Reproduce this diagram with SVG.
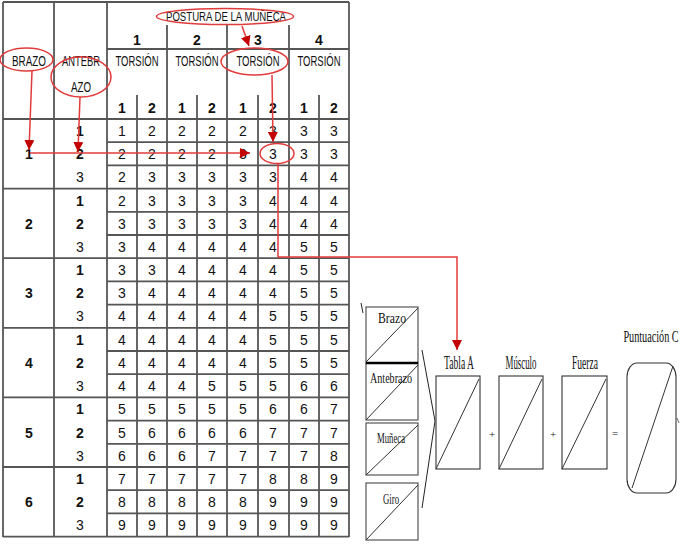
<svg xmlns="http://www.w3.org/2000/svg" width="688" height="550" viewBox="0 0 688 550">
<style>
.v{stroke:#000;stroke-width:1.2}
.h{stroke:#555;stroke-width:1.8}
.d{font-family:"Liberation Sans Narrow","Liberation Sans",sans-serif;font-size:14px;text-anchor:middle;fill:#111}
.b{font-weight:bold}
.hd{font-family:"Liberation Sans Narrow","Liberation Sans",sans-serif;font-size:14px;text-anchor:middle;fill:#111}
.r{stroke:#e23b3b;stroke-width:1.5;fill:none}
.bx{stroke:#555;stroke-width:1.2;fill:none}
.bx2{stroke:#333;stroke-width:1.1;fill:none}
.dg{stroke:#333;stroke-width:1}
.s{font-family:"Liberation Serif",serif;font-size:15px;text-anchor:middle;fill:#111}
.t{font-size:18px}
.op{font-size:11px}
</style>
<defs>
<marker id="ah" markerWidth="10" markerHeight="10" refX="10" refY="5" orient="auto" markerUnits="userSpaceOnUse"><path d="M0,0 L10,5 L0,10 z" fill="#c40000"/></marker>
</defs>
<rect width="688" height="550" fill="#fff"/>
<g id="table">
<g id="grid">
<line class="v" x1="3" y1="2" x2="3" y2="537"/>
<line class="v" x1="54" y1="2" x2="54" y2="537"/>
<line class="v" x1="107" y1="2" x2="107" y2="537"/>
<line class="v" x1="167" y1="25" x2="167" y2="537"/>
<line class="v" x1="227" y1="25" x2="227" y2="537"/>
<line class="v" x1="289" y1="25" x2="289" y2="537"/>
<line class="v" x1="349" y1="2" x2="349" y2="537"/>
<line class="v" x1="137" y1="95" x2="137" y2="537"/>
<line class="v" x1="197" y1="95" x2="197" y2="537"/>
<line class="v" x1="258" y1="95" x2="258" y2="537"/>
<line class="v" x1="319" y1="95" x2="319" y2="537"/>
<line class="h" x1="3" y1="2" x2="349" y2="2"/>
<line class="h" x1="107" y1="49" x2="349" y2="49"/>
<line class="h" x1="3" y1="119" x2="349" y2="119"/>
<line class="h" x1="3" y1="188.6" x2="349" y2="188.6"/>
<line class="h" x1="3" y1="258.2" x2="349" y2="258.2"/>
<line class="h" x1="3" y1="327.8" x2="349" y2="327.8"/>
<line class="h" x1="3" y1="397.4" x2="349" y2="397.4"/>
<line class="h" x1="3" y1="467" x2="349" y2="467"/>
<line class="h" x1="3" y1="536.6" x2="349" y2="536.6"/>
<line class="h" x1="107" y1="142.2" x2="349" y2="142.2"/>
<line class="h" x1="107" y1="165.4" x2="349" y2="165.4"/>
<line class="h" x1="107" y1="211.8" x2="349" y2="211.8"/>
<line class="h" x1="107" y1="235" x2="349" y2="235"/>
<line class="h" x1="107" y1="281.4" x2="349" y2="281.4"/>
<line class="h" x1="107" y1="304.6" x2="349" y2="304.6"/>
<line class="h" x1="107" y1="351" x2="349" y2="351"/>
<line class="h" x1="107" y1="374.2" x2="349" y2="374.2"/>
<line class="h" x1="107" y1="420.6" x2="349" y2="420.6"/>
<line class="h" x1="107" y1="443.8" x2="349" y2="443.8"/>
<line class="h" x1="107" y1="490.2" x2="349" y2="490.2"/>
<line class="h" x1="107" y1="513.4" x2="349" y2="513.4"/>
</g>
<g id="header">
<text class="hd" x="226" y="21" style="font-size:13px" textLength="120" lengthAdjust="spacingAndGlyphs">POSTURA DE LA MUÑECA</text>
<text class="hd b" x="137" y="45">1</text>
<text class="hd b" x="197" y="45">2</text>
<text class="hd b" x="258" y="45">3</text>
<text class="hd b" x="319" y="45">4</text>
<text class="hd" x="29" y="66" textLength="34" lengthAdjust="spacingAndGlyphs">BRAZO</text>
<text class="hd" x="81" y="66" textLength="38" lengthAdjust="spacingAndGlyphs">ANTEBR</text>
<text class="hd" x="81" y="92" textLength="20" lengthAdjust="spacingAndGlyphs">AZO</text>
<text class="hd" x="137" y="66" textLength="43" lengthAdjust="spacingAndGlyphs">TORSIÓN</text>
<text class="hd" x="197" y="66" textLength="43" lengthAdjust="spacingAndGlyphs">TORSIÓN</text>
<text class="hd" x="258" y="66" textLength="43" lengthAdjust="spacingAndGlyphs">TORSIÓN</text>
<text class="hd" x="319" y="66" textLength="43" lengthAdjust="spacingAndGlyphs">TORSIÓN</text>
<text class="d b" x="122" y="113">1</text><text class="d b" x="152" y="113">2</text>
<text class="d b" x="182" y="113">1</text><text class="d b" x="212" y="113">2</text>
<text class="d b" x="243" y="113">1</text><text class="d b" x="273" y="113">2</text>
<text class="d b" x="304" y="113">1</text><text class="d b" x="334" y="113">2</text>
</g>
<g id="rowlabels">
<text class="d b" x="29" y="159">1</text>
<text class="d b" x="29" y="229">2</text>
<text class="d b" x="29" y="298">3</text>
<text class="d b" x="29" y="368">4</text>
<text class="d b" x="29" y="438">5</text>
<text class="d b" x="29" y="507">6</text>
<text class="d b" x="80" y="136">1</text><text class="d b" x="80" y="159">2</text><text class="d" x="80" y="182">3</text>
<text class="d b" x="80" y="206">1</text><text class="d b" x="80" y="229">2</text><text class="d" x="80" y="252">3</text>
<text class="d b" x="80" y="275">1</text><text class="d b" x="80" y="298">2</text><text class="d" x="80" y="321">3</text>
<text class="d b" x="80" y="345">1</text><text class="d b" x="80" y="368">2</text><text class="d" x="80" y="391">3</text>
<text class="d b" x="80" y="414">1</text><text class="d b" x="80" y="438">2</text><text class="d" x="80" y="461">3</text>
<text class="d b" x="80" y="484">1</text><text class="d b" x="80" y="507">2</text><text class="d" x="80" y="530">3</text>
</g>
<g id="values">
<text class="d" x="122" y="136">1</text><text class="d" x="152" y="136">2</text><text class="d" x="182" y="136">2</text><text class="d" x="212" y="136">2</text><text class="d" x="243" y="136">2</text><text class="d" x="273" y="136">3</text><text class="d" x="304" y="136">3</text><text class="d" x="334" y="136">3</text>
<text class="d" x="122" y="159">2</text><text class="d" x="152" y="159">2</text><text class="d" x="182" y="159">2</text><text class="d" x="212" y="159">2</text><text class="d" x="243" y="159">3</text><text class="d" x="273" y="159">3</text><text class="d" x="304" y="159">3</text><text class="d" x="334" y="159">3</text>
<text class="d" x="122" y="182">2</text><text class="d" x="152" y="182">3</text><text class="d" x="182" y="182">3</text><text class="d" x="212" y="182">3</text><text class="d" x="243" y="182">3</text><text class="d" x="273" y="182">3</text><text class="d" x="304" y="182">4</text><text class="d" x="334" y="182">4</text>
<text class="d" x="122" y="206">2</text><text class="d" x="152" y="206">3</text><text class="d" x="182" y="206">3</text><text class="d" x="212" y="206">3</text><text class="d" x="243" y="206">3</text><text class="d" x="273" y="206">4</text><text class="d" x="304" y="206">4</text><text class="d" x="334" y="206">4</text>
<text class="d" x="122" y="229">3</text><text class="d" x="152" y="229">3</text><text class="d" x="182" y="229">3</text><text class="d" x="212" y="229">3</text><text class="d" x="243" y="229">3</text><text class="d" x="273" y="229">4</text><text class="d" x="304" y="229">4</text><text class="d" x="334" y="229">4</text>
<text class="d" x="122" y="252">3</text><text class="d" x="152" y="252">4</text><text class="d" x="182" y="252">4</text><text class="d" x="212" y="252">4</text><text class="d" x="243" y="252">4</text><text class="d" x="273" y="252">4</text><text class="d" x="304" y="252">5</text><text class="d" x="334" y="252">5</text>
<text class="d" x="122" y="275">3</text><text class="d" x="152" y="275">3</text><text class="d" x="182" y="275">4</text><text class="d" x="212" y="275">4</text><text class="d" x="243" y="275">4</text><text class="d" x="273" y="275">4</text><text class="d" x="304" y="275">5</text><text class="d" x="334" y="275">5</text>
<text class="d" x="122" y="298">3</text><text class="d" x="152" y="298">4</text><text class="d" x="182" y="298">4</text><text class="d" x="212" y="298">4</text><text class="d" x="243" y="298">4</text><text class="d" x="273" y="298">4</text><text class="d" x="304" y="298">5</text><text class="d" x="334" y="298">5</text>
<text class="d" x="122" y="321">4</text><text class="d" x="152" y="321">4</text><text class="d" x="182" y="321">4</text><text class="d" x="212" y="321">4</text><text class="d" x="243" y="321">4</text><text class="d" x="273" y="321">5</text><text class="d" x="304" y="321">5</text><text class="d" x="334" y="321">5</text>
<text class="d" x="122" y="345">4</text><text class="d" x="152" y="345">4</text><text class="d" x="182" y="345">4</text><text class="d" x="212" y="345">4</text><text class="d" x="243" y="345">4</text><text class="d" x="273" y="345">5</text><text class="d" x="304" y="345">5</text><text class="d" x="334" y="345">5</text>
<text class="d" x="122" y="368">4</text><text class="d" x="152" y="368">4</text><text class="d" x="182" y="368">4</text><text class="d" x="212" y="368">4</text><text class="d" x="243" y="368">4</text><text class="d" x="273" y="368">5</text><text class="d" x="304" y="368">5</text><text class="d" x="334" y="368">5</text>
<text class="d" x="122" y="391">4</text><text class="d" x="152" y="391">4</text><text class="d" x="182" y="391">4</text><text class="d" x="212" y="391">5</text><text class="d" x="243" y="391">5</text><text class="d" x="273" y="391">5</text><text class="d" x="304" y="391">6</text><text class="d" x="334" y="391">6</text>
<text class="d" x="122" y="414">5</text><text class="d" x="152" y="414">5</text><text class="d" x="182" y="414">5</text><text class="d" x="212" y="414">5</text><text class="d" x="243" y="414">5</text><text class="d" x="273" y="414">6</text><text class="d" x="304" y="414">6</text><text class="d" x="334" y="414">7</text>
<text class="d" x="122" y="438">5</text><text class="d" x="152" y="438">6</text><text class="d" x="182" y="438">6</text><text class="d" x="212" y="438">6</text><text class="d" x="243" y="438">6</text><text class="d" x="273" y="438">7</text><text class="d" x="304" y="438">7</text><text class="d" x="334" y="438">7</text>
<text class="d" x="122" y="461">6</text><text class="d" x="152" y="461">6</text><text class="d" x="182" y="461">6</text><text class="d" x="212" y="461">7</text><text class="d" x="243" y="461">7</text><text class="d" x="273" y="461">7</text><text class="d" x="304" y="461">7</text><text class="d" x="334" y="461">8</text>
<text class="d" x="122" y="484">7</text><text class="d" x="152" y="484">7</text><text class="d" x="182" y="484">7</text><text class="d" x="212" y="484">7</text><text class="d" x="243" y="484">7</text><text class="d" x="273" y="484">8</text><text class="d" x="304" y="484">8</text><text class="d" x="334" y="484">9</text>
<text class="d" x="122" y="507">8</text><text class="d" x="152" y="507">8</text><text class="d" x="182" y="507">8</text><text class="d" x="212" y="507">8</text><text class="d" x="243" y="507">8</text><text class="d" x="273" y="507">9</text><text class="d" x="304" y="507">9</text><text class="d" x="334" y="507">9</text>
<text class="d" x="122" y="530">9</text><text class="d" x="152" y="530">9</text><text class="d" x="182" y="530">9</text><text class="d" x="212" y="530">9</text><text class="d" x="243" y="530">9</text><text class="d" x="273" y="530">9</text><text class="d" x="304" y="530">9</text><text class="d" x="334" y="530">9</text>
</g>
</g>
<g id="highlights">
<ellipse class="r" cx="225" cy="16.5" rx="68.5" ry="8"/>
<ellipse class="r" cx="254.5" cy="61.5" rx="33.5" ry="13.5"/>
<ellipse class="r" cx="26.5" cy="59.5" rx="26.5" ry="11.5"/>
<ellipse class="r" cx="81" cy="77" rx="30" ry="20"/>
<ellipse class="r" cx="277" cy="153.5" rx="17" ry="10"/>
</g>
<g id="connectors">
<line class="r" x1="242" y1="26" x2="249" y2="46" marker-end="url(#ah)"/>
<line class="r" x1="32" y1="71" x2="29" y2="150" marker-end="url(#ah)"/>
<line class="r" x1="80" y1="97" x2="78" y2="152" marker-end="url(#ah)"/>
<line class="r" x1="30" y1="153" x2="250" y2="153" marker-end="url(#ah)"/>
<line class="r" x1="272" y1="75" x2="273" y2="142" marker-end="url(#ah)"/>
<polyline class="r" points="278,163.5 278,257 457,257 457,350" marker-end="url(#ah)"/>
</g>
<g id="inputs">
<line x1="361" y1="303" x2="363" y2="313" stroke="#222" stroke-width="1"/>
<g id="brazo"><rect class="bx" x="366" y="307" width="52" height="56"/><line class="dg" x1="366" y1="362" x2="418" y2="308"/><text class="s" x="392" y="323" textLength="28" lengthAdjust="spacingAndGlyphs">Brazo</text></g>
<g id="antebrazo"><rect class="bx" x="366" y="363" width="52" height="57"/><line class="dg" x1="366" y1="420" x2="418" y2="365"/><text class="s" x="391" y="383" textLength="42" lengthAdjust="spacingAndGlyphs">Antebrazo</text></g>
<line x1="366" y1="363" x2="418" y2="363" stroke="#000" stroke-width="2.5"/>
<g id="muneca"><rect class="bx" x="366" y="423" width="52" height="52"/><line class="dg" x1="366" y1="475" x2="418" y2="425"/><text class="s" x="391" y="443" textLength="28" lengthAdjust="spacingAndGlyphs">Muñeca</text></g>
<g id="giro"><rect class="bx" x="366" y="483" width="52" height="57"/><line class="dg" x1="366" y1="540" x2="418" y2="485"/><text class="s" x="391" y="504" textLength="16" lengthAdjust="spacingAndGlyphs">Giro</text></g>
<polyline points="422,350 435,421 422,508" fill="none" stroke="#222" stroke-width="1"/>
</g>
<g id="tablaA"><rect class="bx2" x="436" y="376" width="44" height="93"/><line class="dg" x1="436" y1="469" x2="479" y2="379"/><text class="s t" x="459" y="369" textLength="30" lengthAdjust="spacingAndGlyphs">Tabla A</text></g>
<text class="s op" x="492" y="438">+</text>
<g id="musculo"><rect class="bx2" x="499" y="376" width="44" height="93"/><line class="dg" x1="499" y1="469" x2="542" y2="379"/><text class="s t" x="521" y="369" textLength="31" lengthAdjust="spacingAndGlyphs">Músculo</text></g>
<text class="s op" x="553" y="438">+</text>
<g id="fuerza"><rect class="bx2" x="562" y="376" width="45" height="93"/><line class="dg" x1="562" y1="469" x2="606" y2="379"/><text class="s t" x="585" y="369" textLength="26" lengthAdjust="spacingAndGlyphs">Fuerza</text></g>
<text class="s op" x="615" y="437">=</text>
<g id="puntuacionC"><rect class="bx2" x="627" y="363" width="49" height="130" rx="10" ry="14"/><line class="dg" x1="632" y1="488" x2="673" y2="366"/><text class="s" transform="translate(651,342) scale(0.6,1)" x="0" y="0" style="font-size:17px">Puntuación C</text></g>
<line x1="677" y1="418" x2="679" y2="423" stroke="#444" stroke-width="0.8"/>
</svg>
